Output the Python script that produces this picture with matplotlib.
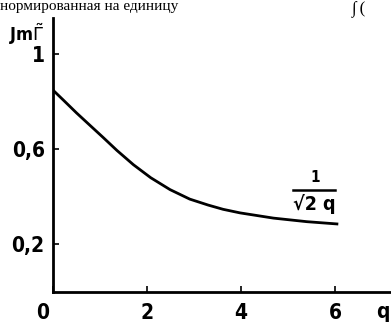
import matplotlib.pyplot as plt
import matplotlib.transforms as mtransforms

# Im Gamma normalised to one, as a function of q
q = [0.0, 0.22, 0.50, 0.79, 1.07, 1.36, 1.71, 2.08, 2.49, 2.91, 3.30, 3.62, 3.98,
     4.69, 5.40, 6.07]
im_gamma = [0.848, 0.806, 0.752, 0.699, 0.648, 0.594, 0.534, 0.479, 0.429, 0.389,
            0.364, 0.346, 0.331, 0.309, 0.294, 0.284]

x_ticks = [0, 2, 4, 6]
y_ticks = [0.2, 0.6, 1.0]
y_tick_labels = ['0,2', '0,6', '1']

font = dict(family='DejaVu Sans', fontstretch='condensed', fontweight='bold')

fig = plt.figure(figsize=(3.91, 3.27), dpi=100)
W, H = 391, 327
x0, y0, y1 = 53, 291.5, 18
ax = fig.add_axes([x0 / W, (H - y0) / H, (W - x0) / W, (y0 - y1) / H])

ax.plot(q, im_gamma, color='black', lw=2.0, solid_capstyle='butt',
        solid_joinstyle='round')

ax.set_xlim(0, (W - x0) / 47.0)
ax.set_ylim(0, (y0 - y1) / 237.5)
for side in ['top', 'right']:
    ax.spines[side].set_visible(False)
for side in ['left', 'bottom']:
    ax.spines[side].set_linewidth(2.0)

ax.set_xticks(x_ticks)
ax.set_xticklabels([str(t) for t in x_ticks], fontsize=15, **font)
ax.set_yticks(y_ticks)
ax.set_yticklabels(y_tick_labels, fontsize=15, **font)
ax.tick_params(direction='in', length=4, width=1.2, pad=6)
ax.tick_params(axis='x', pad=8)

# first x label sits a little left of the axis
lbl0 = ax.get_xticklabels()[0]
lbl0.set_transform(lbl0.get_transform() +
                   mtransforms.ScaledTranslation(-0.1, 0, fig.dpi_scale_trans))

fig.text(383 / W, 1 - 312 / H, 'q', fontsize=15, ha='center', va='center', **font)
fig.text(27 / W, 1 - 34 / H, 'Jm$\\tilde{\\Gamma}$', fontsize=13,
         ha='center', va='center', **font)

# curve label 1/sqrt(2q)
ax.text(5.57, 0.478, '1', fontsize=11, ha='center', va='center', **font)
ax.plot([5.1, 6.0], [0.427, 0.427], color='black', lw=1.8)
ax.text(5.57, 0.37, '√2 q', fontsize=14, ha='center', va='center', **font)

# page text running above the figure
serif = ['Liberation Serif', 'DejaVu Serif']
fig.text(0.0, 1.0, 'нормированная на единицу', family=serif, fontsize=11,
         ha='left', va='top')
fig.text(0.9, 1.0, '∫ (', family=serif, fontsize=12, ha='left', va='top')

fig.savefig('out.png', dpi=100)
